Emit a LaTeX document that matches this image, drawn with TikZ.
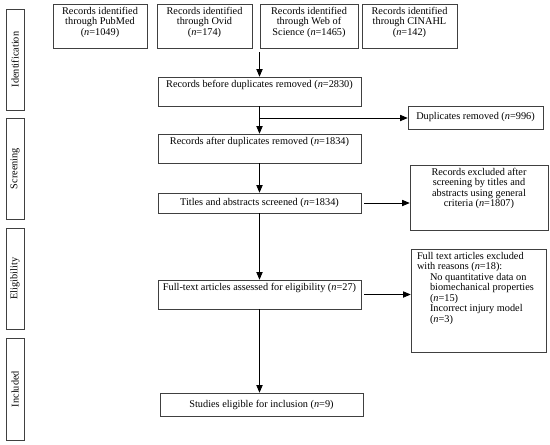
\documentclass[tikz,border=0pt]{standalone}
\usepackage{fontspec}
\setmainfont{Liberation Serif}
\usepackage{tikz}
\tikzset{every node/.style={draw=black!75, line width=0.6pt, rectangle, inner sep=3pt, font=\fontsize{10.3}{10.5}\selectfont}}
\tikzset{stage/.style={rotate=90, minimum width=101pt, minimum height=18pt, inner sep=0pt}}
\tikzset{source/.style={minimum width=95pt, minimum height=44pt}}
\tikzset{record/.style={minimum width=203pt, minimum height=29pt, text height=7pt, text depth=16pt}}
\usetikzlibrary{arrows}

\begin{document}
\begin{tikzpicture}[x=1pt, y=-1pt]
\useasboundingbox (0,0) rectangle (550,445);

\node[stage] (ident) at (15,59.5) {Identification};
\node[stage] (screen) at (15,168.5) {Screening};
\node[stage] (elig) at (15,278.5) {Eligibility};
\node[stage, minimum width=102pt] (incl) at (15,389) {Included};

\node[source, minimum width=94pt] (pubmed) at (100,26) {\parbox[c][38pt][t]{88pt}{\centering Records identified\\through PubMed\\(\textit{n}=1049)}};
\node[source] (ovid) at (204.5,26) {\parbox[c][38pt][t]{88pt}{\centering Records identified\\through Ovid\\(\textit{n}=174)}};
\node[source, minimum width=98pt] (wos) at (309,26) {\parbox[c][38pt][t]{90pt}{\centering Records identified\\through Web of\\Science (\textit{n}=1465)}};
\node[source] (cinahl) at (409.5,26) {\parbox[c][38pt][t]{88pt}{\centering Records identified\\through CINAHL\\(\textit{n}=142)}};

\node[record] (before) at (259.5,91.5) {Records before duplicates removed (\textit{n}=2830)};
\node[record] (after) at (259.5,148.5) {Records after duplicates removed (\textit{n}=1834)};
\node[minimum width=203pt, minimum height=20pt] (titles) at (259.5,203) {Titles and abstracts screened (\textit{n}=1834)};
\node[record] (fulltext) at (259.5,294.5) {Full-text articles assessed for eligibility (\textit{n}=27)};
\node[minimum width=203pt, minimum height=23pt] (studies) at (261.5,404.5) {Studies eligible for inclusion (\textit{n}=9)};

\node[minimum width=135pt, minimum height=23pt] (dup) at (475.5,117.5) {Duplicates removed (\textit{n}=996)};
\node (screenout) at (479,197.5) {\parbox[c][59pt][t]{132pt}{\centering Records excluded after\\screening by titles and\\abstracts using general\\criteria (\textit{n}=1807)}};
\node[inner xsep=6pt] (fullout) at (478.5,300.5) {\parbox[c][97pt][t]{123pt}{Full text articles excluded\\with reasons (\textit{n}=18):\\
\hspace*{13pt}No quantitative data on\\
\hspace*{13pt}biomechanical properties\\
\hspace*{13pt}(\textit{n}=15)\\
\hspace*{13pt}Incorrect injury model\\
\hspace*{13pt}(\textit{n}=3)}};

\coordinate (join) at (259.5,52);
\coordinate (split) at (259.5,118);

\draw[-triangle 45, line width=0.75pt] (join) -- (before.north);
\draw[-triangle 45, line width=0.75pt] (before) -- (after);
\draw[-triangle 45, line width=0.75pt] (split) -- (split -| dup.west);
\draw[-triangle 45, line width=0.75pt] (after) -- (titles);
\draw[-triangle 45, line width=0.75pt, shorten <=3pt] (titles.east) -- (titles.east -| screenout.west);
\draw[-triangle 45, line width=0.75pt] (titles) -- (fulltext);
\draw[-triangle 45, line width=0.75pt, shorten <=3pt] (fulltext.east) -- (fulltext.east -| fullout.west);
\draw[-triangle 45, line width=0.75pt] (fulltext) -- (fulltext |- studies.north);
\end{tikzpicture}
\end{document}
